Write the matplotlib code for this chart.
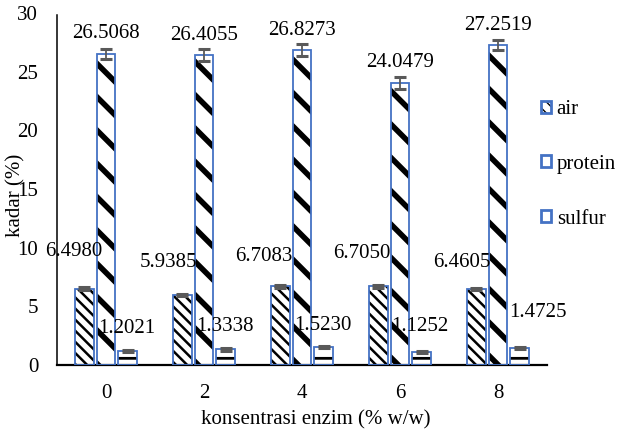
import matplotlib
matplotlib.use("Agg")
import matplotlib.pyplot as plt
import numpy as np
from matplotlib.patches import Patch
from matplotlib.legend_handler import HandlerTuple

categories = ['0', '2', '4', '6', '8']
air = [6.4980, 5.9385, 6.7083, 6.7050, 6.4605]
protein = [26.5068, 26.4055, 26.8273, 24.0479, 27.2519]
sulfur = [1.2021, 1.3338, 1.5230, 1.1252, 1.4725]
err_air = [0.12, 0.10, 0.12, 0.12, 0.10]
err_protein = [0.45, 0.50, 0.50, 0.50, 0.45]
err_sulfur = [0.10, 0.10, 0.10, 0.10, 0.10]
series_names = ['air', 'protein', 'sulfur']
yticks = [0, 5, 10, 15, 20, 25, 30]

# label layout (offsets in data units)
air_lbl_dx = [-0.327, -0.367, -0.388, -0.388, -0.367]
air_lbl_y = [9.63, 8.69, 9.20, 9.54, 8.77]
sul_lbl_dx = [0.214, 0.214, 0.214, 0.204, 0.408]
sul_lbl_y = [3.15, 3.24, 3.40, 3.24, 4.43]

plt.rcParams['font.family'] = ['Liberation Serif', 'DejaVu Serif']
FS = 15
BLUE = '#4472C4'
ERR = '#595959'

W, H = 619, 436
fig = plt.figure(figsize=(W / 100, H / 100), dpi=100)
L, R, B, T = 57, 547, 365, 12.8
ax = fig.add_axes([L / W, 1 - B / H, (R - L) / W, (B - T) / H])

x = np.arange(len(categories))
bw = 0.185
off = 0.22
specs = [(air, err_air, -off, '\\\\\\', 1.8),
         (protein, err_protein, 0.0, '\\', 4.0),
         (sulfur, err_sulfur, off, '-', 2.0)]

handles = []
for (vals, errs, dx, hatch, hlw), name in zip(specs, series_names):
    with plt.rc_context({'hatch.linewidth': hlw}):
        hb = ax.bar(x + dx, vals, bw, facecolor='white', edgecolor='black',
                    hatch=hatch, linewidth=0, zorder=2)
        for p in hb:
            if hasattr(p, 'set_hatch_linewidth'):
                p.set_hatch_linewidth(hlw)
        ax.bar(x + dx, vals, bw, facecolor='none', edgecolor=BLUE,
               linewidth=1.3, zorder=3)
        ax.errorbar(x + dx, vals, yerr=errs, fmt='none', ecolor=ERR,
                    elinewidth=1.3, capsize=4.5, capthick=2.2, zorder=4)
        h1 = Patch(facecolor='white', edgecolor='black', hatch=hatch, linewidth=0)
        if hasattr(h1, 'set_hatch_linewidth'):
            h1.set_hatch_linewidth(min(hlw, 2.5))
        h2 = Patch(facecolor='none', edgecolor=BLUE, linewidth=2.0)
        handles.append((h1, h2))

for i, v in enumerate(protein):
    ax.text(x[i], v + 1.7, f'{v:.4f}', ha='center', va='center', fontsize=FS, zorder=6)
for i, v in enumerate(air):
    ax.text(x[i] + air_lbl_dx[i], air_lbl_y[i], f'{v:.4f}', ha='center', va='center',
            fontsize=FS, zorder=6)
for i, v in enumerate(sulfur):
    ax.text(x[i] + sul_lbl_dx[i], sul_lbl_y[i], f'{v:.4f}', ha='center', va='center',
            fontsize=FS, zorder=6)

ax.set_xlim(-0.5, len(categories) - 0.5)
ax.set_ylim(0, 30)
ax.set_yticks(yticks)
ax.set_xticks(x)
ax.set_xticklabels(categories)
ax.tick_params(axis='both', length=0, labelsize=FS)
ax.tick_params(axis='y', pad=13.5)
ax.tick_params(axis='x', pad=14)
for s in ['top', 'right']:
    ax.spines[s].set_visible(False)
ax.spines['left'].set_linewidth(1.1)
ax.spines['bottom'].set_linewidth(1.6)
ax.spines['left'].set_bounds(0, 29.8)

fig.text(16 / W, 1 - 195 / H, 'kadar (%)', rotation=90, ha='center', va='center', fontsize=FS)
fig.text(316 / W, 1 - 420 / H, 'konsentrasi enzim (% w/w)', ha='center', va='center', fontsize=FS)

leg = fig.legend(handles, series_names, loc='upper left', bbox_to_anchor=(541 / W, 1 - 100 / H),
                 frameon=False, fontsize=FS, handlelength=0.5, handleheight=0.5,
                 handletextpad=0.25, labelspacing=1.72, borderaxespad=0, borderpad=0,
                 handler_map={tuple: HandlerTuple(ndivide=1, pad=0)})

fig.savefig('out.png', dpi=100)
